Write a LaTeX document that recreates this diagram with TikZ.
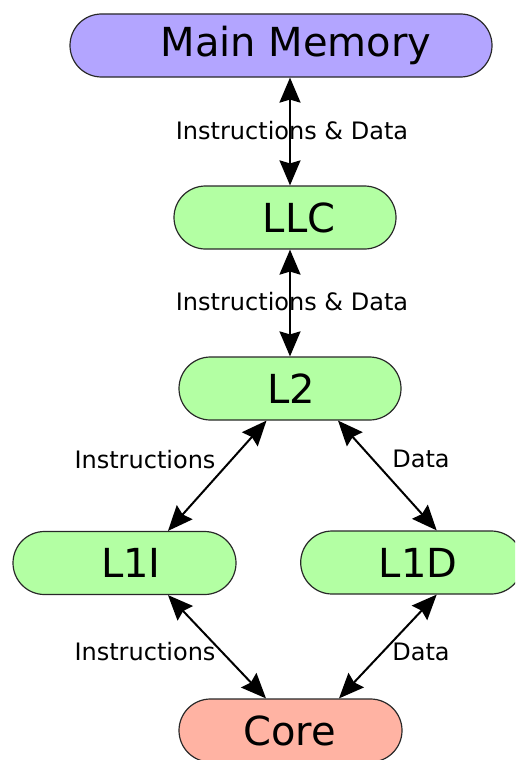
\documentclass[tikz,border=0pt]{standalone}
\usepackage{fontspec}
\setmainfont{DejaVu Sans}
\usetikzlibrary{arrows.meta}
\definecolor{memcol}{RGB}{179,165,255}
\definecolor{cachecol}{RGB}{179,255,163}
\definecolor{corecol}{RGB}{255,179,163}
\definecolor{bordercol}{RGB}{40,40,40}
\tikzset{
  box/.style={draw=bordercol, line width=1.2pt, rounded corners=31.5pt, minimum height=63pt, inner sep=0pt},
  boxtext/.style={font=\fontsize{40}{46}\selectfont, inner sep=0pt},
  lbl/.style={font=\fontsize{24}{28}\selectfont, inner sep=0pt},
  link/.style={line width=2pt, {Stealth[length=25pt,width=21pt,inset=3pt]}-{Stealth[length=25pt,width=21pt,inset=3pt]}}
}
\begin{document}
\begin{tikzpicture}[x=1pt,y=-1pt]
\clip (0,0) rectangle (515,760);
\fill[white] (0,0) rectangle (515,760);
% boxes
\node[box, fill=memcol, minimum width=422pt] (mm) at (281,45.5) {};
\node[box, fill=cachecol, minimum width=222pt] (llc) at (285,217.5) {};
\node[box, fill=cachecol, minimum width=222pt] (l2) at (290,388.5) {};
\node[box, fill=cachecol, minimum width=223pt] (l1i) at (124.5,563) {};
\node[box, fill=cachecol, minimum width=222pt] (l1d) at (411.7,562.5) {};
\node[box, fill=corecol, minimum width=223pt] (core) at (290.5,730.5) {};
% box texts
\node[boxtext] (tmm) at (296,45.5) {Main Memory};
\node[boxtext] (tllc) at (299,217.5) {LLC};
\node[boxtext] (tl2) at (291,388.5) {L2};
\node[boxtext] (tl1i) at (131,563) {L1I};
\node[boxtext] (tl1d) at (418,562.5) {L1D};
\node[boxtext] (tcore) at (289.5,730.5) {Core};
% anchor coordinates for connectors
\coordinate (mmB) at ([xshift=9pt]mm.south);
\coordinate (llcT) at ([xshift=5pt]llc.north);
\coordinate (llcB) at ([xshift=5pt]llc.south);
\coordinate (l2T) at (l2.north);
\coordinate (l2BL) at ([xshift=-23.5pt]l2.south);
\coordinate (l2BR) at ([xshift=48pt]l2.south);
\coordinate (l1iT) at ([xshift=43.5pt]l1i.north);
\coordinate (l1iB) at ([xshift=43.5pt]l1i.south);
\coordinate (l1dT) at ([xshift=25pt]l1d.north);
\coordinate (l1dB) at ([xshift=25pt]l1d.south);
\coordinate (coreTL) at ([xshift=-24.5pt]core.north);
\coordinate (coreTR) at ([xshift=48.5pt]core.north);
% connectors
\draw[link] (mmB) -- (llcT);
\draw[link] (llcB) -- (l2T);
\draw[link] (l2BL) -- (l1iT);
\draw[link] (l2BR) -- (l1dT);
\draw[link] (l1iB) -- (coreTL);
\draw[link] (l1dB) -- (coreTR);
% labels
\node[lbl] (lab1) at (292,131) {Instructions \& Data};
\node[lbl] (lab2) at (292,302) {Instructions \& Data};
\node[lbl] (lab3) at (145,460) {Instructions};
\node[lbl] (lab4) at (421,459) {Data};
\node[lbl] (lab5) at (145,652) {Instructions};
\node[lbl] (lab6) at (421,652) {Data};
\end{tikzpicture}
\end{document}
